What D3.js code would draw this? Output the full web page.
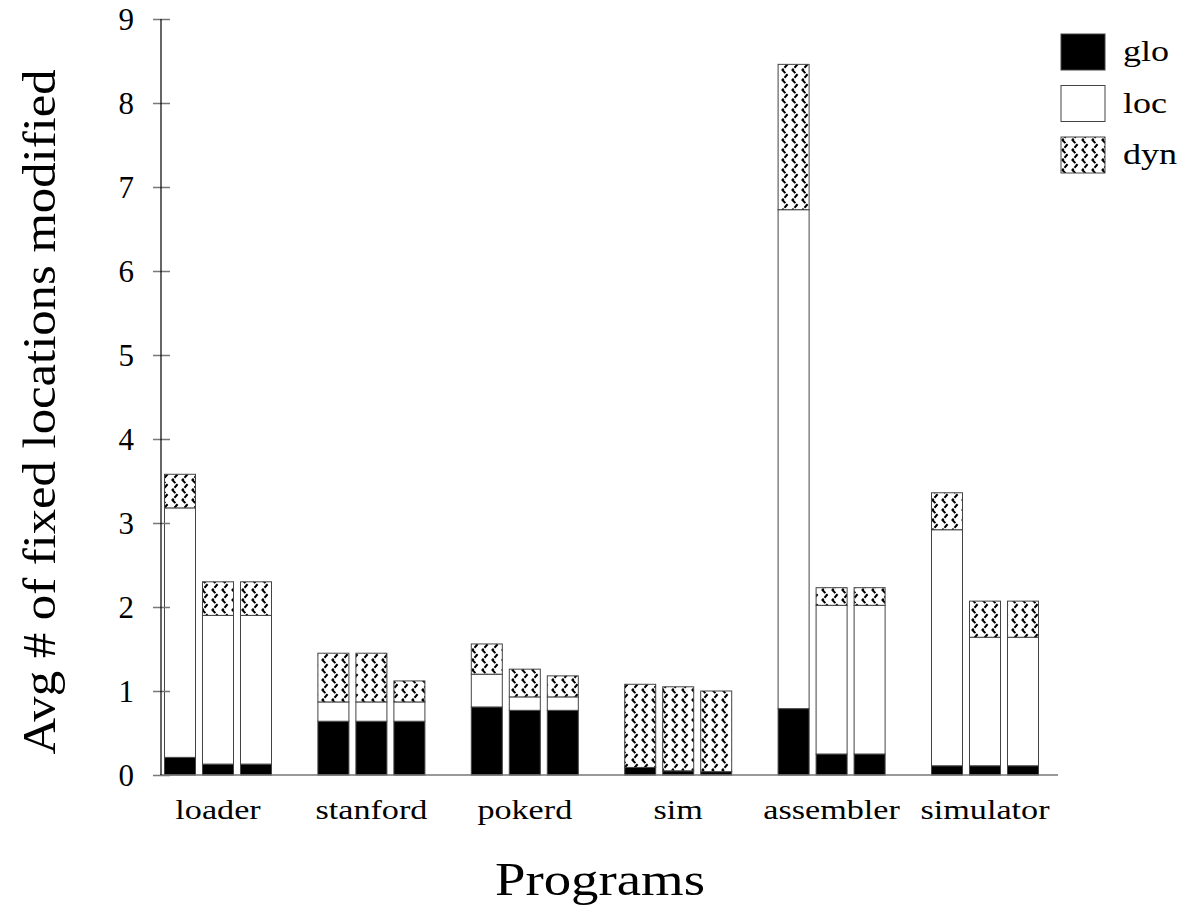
<!DOCTYPE html>
<html>
<head>
<meta charset="utf-8">
<script src="https://cdn.jsdelivr.net/npm/d3@7"></script>
<style>
  html, body { margin: 0; padding: 0; background: #fff; }
  svg text { font-family: 'Liberation Serif', 'Times New Roman', serif; fill: #000; }
</style>
</head>
<body>
<svg id="chart" width="1192" height="907"></svg>
<script>
// ---- data ----
const categories = ["loader", "stanford", "pokerd", "sim", "assembler", "simulator"];
const variants = [0, 1, 2];
// segment heights, three bars per program (in category order)
const gloValues = [0.21, 0.13, 0.13,  0.64, 0.64, 0.64,  0.81, 0.77, 0.77,  0.09, 0.05, 0.04,  0.79, 0.25, 0.25,  0.11, 0.11, 0.11];
const locValues = [2.97, 1.77, 1.77,  0.23, 0.23, 0.23,  0.39, 0.16, 0.16,  0.00, 0.00, 0.00,  5.94, 1.77, 1.77,  2.81, 1.53, 1.53];
const dynValues = [0.40, 0.40, 0.40,  0.58, 0.58, 0.25,  0.36, 0.33, 0.25,  0.99, 1.00, 0.96,  1.73, 0.21, 0.21,  0.44, 0.43, 0.43];
const seriesNames = ["glo", "loc", "dyn"];
const yTicks = [0, 1, 2, 3, 4, 5, 6, 7, 8, 9];

// ---- layout ----
const FONT = "'Liberation Serif', 'Times New Roman', serif";
const svg = d3.select("#chart");
const defs = svg.append("defs");
const pat = defs.append("pattern")
  .attr("id", "zig").attr("patternUnits", "userSpaceOnUse")
  .attr("width", 10).attr("height", 10);
pat.append("rect").attr("width", 10).attr("height", 10).attr("fill", "#fff");
pat.append("path").attr("d", "M2,-0.5 L7,5 L2,10.5")
  .attr("fill", "none").attr("stroke", "#000").attr("stroke-width", 2)
  .attr("stroke-dasharray", "5,1.2");

const fills = { glo: "#000", loc: "#fff", dyn: "url(#zig)" };

const y = d3.scaleLinear().domain([0, 9]).range([775, 19]);
const x = d3.scaleBand().domain(categories).range([141.3, 1061.7]);
const xi = d3.scaleBand().domain(variants).range([-57, 57]).paddingInner(0.184).paddingOuter(0.092);

// build stacked rows
const rows = [];
categories.forEach((c, ci) => {
  variants.forEach(v => {
    const k = ci * 3 + v;
    rows.push({ cat: c, v: v, glo: gloValues[k], loc: locValues[k], dyn: dynValues[k] });
  });
});
const stack = d3.stack().keys(seriesNames)(rows);

// bars
const barG = svg.append("g");
stack.forEach(layer => {
  barG.append("g").selectAll("rect").data(layer).join("rect")
    .attr("x", d => x(d.data.cat) + x.bandwidth() / 2 + xi(d.data.v))
    .attr("width", xi.bandwidth())
    .attr("y", d => y(d[1]))
    .attr("height", d => Math.max(0, y(d[0]) - y(d[1])))
    .attr("fill", fills[layer.key])
    .attr("stroke", "#444").attr("stroke-width", 1);
});

// baseline
svg.append("line").attr("x1", 160).attr("x2", 1058).attr("y1", y(0)).attr("y2", y(0))
  .attr("stroke", "#777").attr("stroke-width", 1.5);

// helper: stretch text horizontally like the reference
function stretch(sel, f) {
  sel.each(function () {
    const w = this.getComputedTextLength();
    d3.select(this).attr("textLength", w * f).attr("lengthAdjust", "spacingAndGlyphs");
  });
}

// y axis
const yAxis = d3.axisLeft(y).tickValues(yTicks).tickSize(0).tickPadding(0).tickFormat(d3.format("d"));
const yg = svg.append("g").attr("transform", "translate(161,0)").call(yAxis);
yg.attr("font-family", null);
yg.select(".domain").remove();
yg.selectAll(".tick text").attr("x", -27).attr("dy", "0.35em")
  .style("font-size", "31px").style("font-family", FONT).attr("fill", "#000");
yg.selectAll(".tick").append("line").attr("x1", -8).attr("x2", 9)
  .attr("stroke", "#777").attr("stroke-width", 1.5);
svg.append("line").attr("x1", 161).attr("x2", 161).attr("y1", y(9)).attr("y2", y(0))
  .attr("stroke", "#000").attr("stroke-width", 1.2);

// x axis labels
const xAxis = d3.axisBottom(x).tickSize(0).tickPadding(0);
const xg = svg.append("g").attr("transform", `translate(0,${y(0)})`).call(xAxis);
xg.attr("font-family", null);
xg.select(".domain").remove();
xg.selectAll(".tick text").attr("y", 44).attr("dy", 0)
  .style("font-size", "28px").style("font-family", FONT).attr("fill", "#000");
stretch(xg.selectAll(".tick text"), 1.22);

// axis titles
svg.append("text").attr("x", 600).attr("y", 895).attr("text-anchor", "middle")
  .style("font-family", FONT).style("font-size", "46px")
  .attr("textLength", 210).attr("lengthAdjust", "spacingAndGlyphs")
  .text("Programs");
svg.append("text").attr("transform", "translate(55,412) rotate(-90)").attr("text-anchor", "middle")
  .style("font-family", FONT).style("font-size", "46px")
  .attr("textLength", 685).attr("lengthAdjust", "spacingAndGlyphs")
  .text("Avg # of fixed locations modified");

// legend
const leg = svg.append("g");
seriesNames.forEach((s, i) => {
  const ly = 34 + i * 51.5;
  leg.append("rect").attr("x", 1061).attr("y", ly).attr("width", 44).attr("height", 36)
    .attr("fill", fills[s]).attr("stroke", "#444").attr("stroke-width", 1);
  const t = leg.append("text").attr("x", 1123).attr("y", ly + 27)
    .style("font-family", FONT).style("font-size", "30px").text(s);
  stretch(t, 1.2);
});
</script>
</body>
</html>
